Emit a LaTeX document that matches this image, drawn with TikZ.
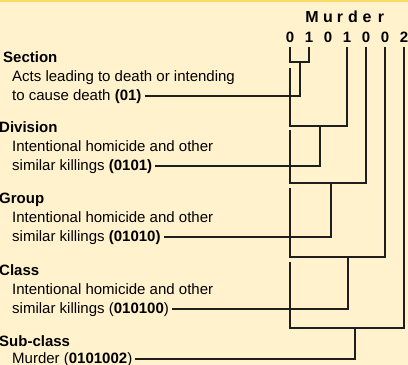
\documentclass[tikz,border=0pt]{standalone}
\usepackage{fontspec}
\setmainfont{Liberation Sans}
\definecolor{paper}{HTML}{FFF2CC}
\definecolor{rim}{HTML}{FFD966}
\definecolor{ink}{HTML}{1E1E1E}

\begin{document}
\begin{tikzpicture}[x=1pt,y=-1pt]
 \tikzset{
  title/.style={anchor=base, inner sep=0pt, font=\fontsize{16}{18}\selectfont\bfseries},
  digit/.style={anchor=base, inner xsep=0pt, inner ysep=5pt, font=\fontsize{15}{18}\selectfont\bfseries},
  level/.style={anchor=base west, inner sep=0pt, font=\fontsize{15}{18}\selectfont\bfseries},
  body/.style={anchor=base west, inner sep=0pt, font=\fontsize{15}{18}\selectfont},
  link/.style={ink, line width=1.7pt},
 }
  \fill[paper] (0,0) rectangle (408,365);
  \fill[rim] (0,0) rectangle (408,2);
  \useasboundingbox (0,0) rectangle (408,365);
  % code at the top
  \foreach \ch/\x [count=\i] in {M/312,u/328,r/340,d/353,e/367,r/381}
    \node[title] (m\i) at (\x,22) {\ch};
  \foreach \dg [count=\i] in {0,1,0,1,0,0,2}
    \node[digit] (d\i) at ({290+(\i-1)*19},42) {\dg};
  % levels
  \node[level] (sec) at (3,62) {Section};
  \node[body] (sec1) at (12,81) {Acts leading to death or intending};
  \node[body] (sec2) at (12,100) {to cause death \textbf{(01)}};
  \node[level] (div) at (-1,132) {Division};
  \node[body] (div1) at (12,151) {Intentional homicide and other};
  \node[body] (div2) at (12,170) {similar killings \textbf{(0101)}};
  \node[level] (grp) at (-1,203) {Group};
  \node[body] (grp1) at (12,222) {Intentional homicide and other};
  \node[body] (grp2) at (12,241) {similar killings \textbf{(01010)}};
  \node[level] (cls) at (-1,275) {Class};
  \node[body] (cls1) at (12,294) {Intentional homicide and other};
  \node[body] (cls2) at (12,313) {similar killings (\textbf{010100})};
  \node[level] (sub) at (-1,346) {Sub-class};
  \node[body] (sub1) at (12,363) {Murder (\textbf{0101002})};
  % brackets
  \coordinate (j1) at (300,62);
  \coordinate (j2) at (320,126);
  \coordinate (j3) at (331,183);
  \coordinate (j4) at (348,257);
  \coordinate (j5) at (355,328);
  \coordinate (k2) at (290,68);
  \coordinate (k3) at (290,130);
  \coordinate (k4) at (290,188);
  \coordinate (k5) at (290,262);
  \draw[link] (d1.south) |- (j1) -| (d2.south);
  \draw[link] (k2) |- (j2) -| (d4.south);
  \draw[link] (k3) |- (j3) -| (d5.south);
  \draw[link] (k4) |- (j4) -| (d6.south);
  \draw[link] (k5) |- (j5) -| (d7.south);
  % lines to the codes
  \draw[link] ([xshift=3pt]sec2.east) -| (j1);
  \draw[link] ([xshift=3pt]div2.east) -| (j2);
  \draw[link] ([xshift=3pt]grp2.east) -| (j3);
  \draw[link] ([xshift=3pt]cls2.east) -| (j4);
  \draw[link] ([xshift=3pt]sub1.east) -| (j5);
\end{tikzpicture}
\end{document}
